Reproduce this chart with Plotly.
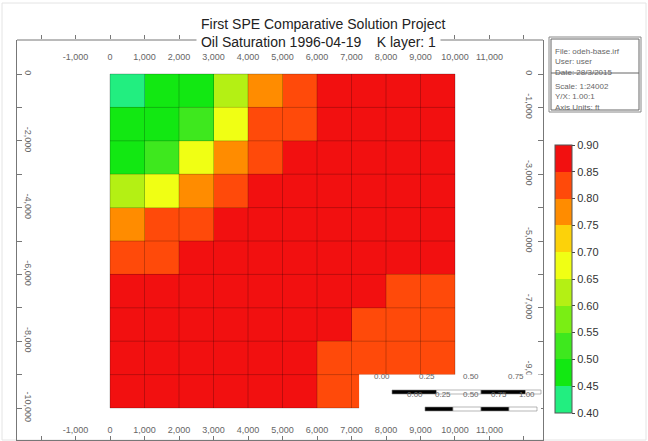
import plotly.graph_objects as go

# ---------------- data ----------------
x_centers = [500, 1500, 2500, 3500, 4500, 5500, 6500, 7500, 8500, 9500]
y_centers = [-500, -1500, -2500, -3500, -4500, -5500, -6500, -7500, -8500, -9500]
cell_edges = [0, 1000, 2000, 3000, 4000, 5000, 6000, 7000, 8000, 9000, 10000]

oil_sat = [
    [0.42, 0.47, 0.48, 0.62, 0.78, 0.82, 0.88, 0.88, 0.88, 0.88],
    [0.47, 0.48, 0.53, 0.68, 0.83, 0.82, 0.88, 0.88, 0.88, 0.88],
    [0.48, 0.53, 0.68, 0.78, 0.83, 0.87, 0.88, 0.88, 0.88, 0.88],
    [0.62, 0.68, 0.77, 0.83, 0.87, 0.88, 0.88, 0.88, 0.88, 0.88],
    [0.77, 0.83, 0.83, 0.87, 0.88, 0.88, 0.88, 0.88, 0.88, 0.88],
    [0.83, 0.83, 0.87, 0.88, 0.88, 0.88, 0.88, 0.88, 0.88, 0.88],
    [0.87, 0.88, 0.88, 0.88, 0.88, 0.88, 0.87, 0.86, 0.84, 0.84],
    [0.87, 0.88, 0.88, 0.88, 0.88, 0.87, 0.86, 0.84, 0.84, 0.84],
    [0.87, 0.88, 0.88, 0.88, 0.87, 0.86, 0.84, 0.84, 0.84, 0.84],
    [0.87, 0.88, 0.88, 0.88, 0.87, 0.86, 0.84, 0.84, 0.84, 0.84],
]

levels = [0.40, 0.45, 0.50, 0.55, 0.60, 0.65, 0.70, 0.75, 0.80, 0.85, 0.90]
level_colors = ["#22ee80", "#12e812", "#3ee81e", "#7aee14", "#b4f014",
                "#f0ff14", "#fcd20a", "#ff8c00", "#ff4a0a", "#f21010"]

x_tickvals = [-2000, -1000, 0, 1000, 2000, 3000, 4000, 5000, 6000, 7000, 8000, 9000, 10000, 11000, 12000]
x_ticktext = ["", "-1,000", "0", "1,000", "2,000", "3,000", "4,000", "5,000", "6,000",
              "7,000", "8,000", "9,000", "10,000", "11,000", ""]
y_tickvals = [1000, 0, -1000, -2000, -3000, -4000, -5000, -6000, -7000, -8000, -9000, -10000]
y_ticktext_left = ["", "0", "", "-2,000", "", "-4,000", "", "-6,000", "", "-8,000", "", "-10,000"]
y_ticktext_right = ["", "0", "-1,000", "", "-3,000", "", "-5,000", "", "-7,000", "", "-9,000", ""]

scale_top_labels = ["0.00", "0.25", "0.50", "0.75"]
scale_bot_labels = ["0.00", "0.25", "0.50", "0.75", "1.00"]

info_lines_top = ["File: odeh-base.irf", "User: user", "Date: 28/3/2015"]
info_lines_bot = ["Scale: 1:24002", "Y/X: 1.00:1", "Axis Units: ft"]

# ---------------- layout geometry ----------------
W, H = 648, 441
L, R, T, B = 17, 105, 40, 1
PW, PH = W - L - R, H - T - B
XR = [-2696, 12551]
YR = [-10958, 1018]


def px(x):
    return (x - L) / PW


def py(y):
    return 1 - (y - T) / PH


def dx(xp):  # pixel -> data x
    return XR[0] + (xp - L) / PW * (XR[1] - XR[0])


def dy(yp):  # pixel -> data y
    return YR[1] - (yp - T) / PH * (YR[1] - YR[0])


colorscale = []
n = len(level_colors)
for k, c in enumerate(level_colors):
    colorscale.append([k / n, c])
    colorscale.append([(k + 1) / n, c])

cb_top, cb_bot = 145, 413
fig = go.Figure()
fig.add_trace(go.Heatmap(
    x=x_centers, y=y_centers, z=oil_sat,
    zmin=levels[0], zmax=levels[-1], colorscale=colorscale,
    hoverinfo="skip",
    colorbar=dict(
        x=px(555), xanchor="left", xpad=0,
        y=py((cb_top + cb_bot) / 2), yanchor="middle", ypad=0,
        lenmode="pixels", len=cb_bot - cb_top, thickness=17,
        outlinewidth=1, outlinecolor="#555",
        tickvals=levels, ticktext=["%.2f" % v for v in levels],
        ticks="outside", ticklen=3, tickcolor="#444",
        tickfont=dict(family="Liberation Sans, Arial", size=11, color="#333"),
    ),
))

# cell borders
gx, gy = [], []
for e in cell_edges:
    gx += [e, e, None]
    gy += [0, -10000, None]
    gx += [0, 10000, None]
    gy += [-e, -e, None]
fig.add_trace(go.Scatter(x=gx, y=gy, mode="lines", xaxis="x2", yaxis="y2",
                         line=dict(color="rgba(0,0,0,0.22)", width=1),
                         hoverinfo="skip", showlegend=False))

tickfont = dict(family="Liberation Sans, Arial", size=9, color="#666")
axcommon = dict(showgrid=False, zeroline=False, linecolor="#777",
                linewidth=1, tickcolor="#777", tickfont=tickfont,
                ticklabelposition="inside")
fig.update_layout(
    width=W, height=H, margin=dict(l=L, r=R, t=T, b=B),
    paper_bgcolor="white", plot_bgcolor="white", showlegend=False,
    xaxis=dict(range=XR, side="bottom", tickmode="array", tickvals=x_tickvals,
               ticktext=x_ticktext, ticks="inside", ticklen=4, showline=True,
               **axcommon),
    xaxis2=dict(range=XR, side="top", overlaying="x", tickmode="array",
                tickvals=x_tickvals, ticktext=x_ticktext, ticks="outside",
                ticklen=4, ticklabelstandoff=11, showline=False, **axcommon),
    yaxis=dict(range=YR, side="left", tickmode="array", tickvals=y_tickvals,
               ticktext=y_ticktext_left, ticks="inside", ticklen=5,
               tickangle=90, showline=True, **axcommon),
    yaxis2=dict(range=YR, side="right", overlaying="y", tickmode="array",
                tickvals=y_tickvals, ticktext=y_ticktext_right, ticks="inside",
                ticklen=5, tickangle=90, showline=True, **axcommon),
)

shapes = []
# faint outer border
shapes.append(dict(type="rect", xref="paper", yref="paper", x0=px(2), x1=px(646),
                   y0=py(440), y1=py(3), line=dict(color="#e4e4e4", width=1),
                   layer="below"))
# top frame line, interrupted by the second title line
for a, b in [(17, 197), (440, 543)]:
    shapes.append(dict(type="line", xref="paper", yref="paper", x0=px(a), x1=px(b),
                       y0=1, y1=1, line=dict(color="#777", width=1)))
# colorbar separators
for k in range(1, n):
    yb = cb_bot - k * (cb_bot - cb_top) / n
    shapes.append(dict(type="line", xref="paper", yref="paper", x0=px(555), x1=px(572),
                       y0=py(yb), y1=py(yb), line=dict(color="rgba(0,0,0,0.45)", width=1)))
# white box of the scale bars
shapes.append(dict(type="rect", xref="x", yref="y", x0=7220, x1=dx(541),
                   y0=-9000, y1=dy(414), fillcolor="white", line=dict(width=0)))


def scale_bar(x0, seg, yc, nseg):
    for i in range(nseg):
        xa = x0 + i * seg
        black = (i % 2 == 0)
        shapes.append(dict(type="rect", xref="paper", yref="paper",
                           x0=px(xa), x1=px(min(xa + seg, 541)), y0=py(yc + 2), y1=py(yc - 2),
                           fillcolor="black" if black else "white",
                           line=dict(color="#888", width=0.6)))


scale_bar(392, 44.5, 392, 4)
scale_bar(425, 28, 409, 4)

# info box (double frame)
shapes.append(dict(type="rect", xref="paper", yref="paper", x0=px(549), x1=px(641),
                   y0=py(112), y1=py(37), line=dict(color="#888", width=1)))
shapes.append(dict(type="rect", xref="paper", yref="paper", x0=px(551), x1=px(639),
                   y0=py(110), y1=py(39), line=dict(color="#666", width=1)))
shapes.append(dict(type="line", xref="paper", yref="paper", x0=px(551), x1=px(639),
                   y0=py(73), y1=py(73), line=dict(color="#666", width=1)))
fig.update_layout(shapes=shapes)

ann = []
ann.append(dict(text="First SPE Comparative Solution Project", x=px(323), y=py(14),
                xref="paper", yref="paper", showarrow=False,
                font=dict(family="Liberation Sans, Arial", size=14, color="#222")))
ann.append(dict(text="&nbsp;Oil Saturation 1996-04-19&nbsp;&nbsp;&nbsp;&nbsp;K layer: 1&nbsp;",
                x=px(318), y=py(33), xref="paper", yref="paper", showarrow=False,
                bgcolor="white", borderpad=0,
                font=dict(family="Liberation Sans, Arial", size=14, color="#222")))
small = dict(family="Liberation Sans, Arial", size=8, color="#666")
for i, t in enumerate(scale_top_labels):
    ann.append(dict(text=t, x=px(392 + i * 44.5), y=py(383), xref="paper", yref="paper",
                    showarrow=False, font=small))
for i, t in enumerate(scale_bot_labels):
    ann.append(dict(text=t, x=px(425 + i * 28), y=py(401), xref="paper", yref="paper",
                    showarrow=False, font=small))
for i, t in enumerate(info_lines_top):
    ann.append(dict(text=t, x=px(553), y=py(45 + i * 10.5), xref="paper", yref="paper",
                    xanchor="left", showarrow=False, font=small))
for i, t in enumerate(info_lines_bot):
    ann.append(dict(text=t, x=px(553), y=py(80 + i * 10.5), xref="paper", yref="paper",
                    xanchor="left", showarrow=False, font=small))
fig.update_layout(annotations=ann)

fig.write_html("out.html")
